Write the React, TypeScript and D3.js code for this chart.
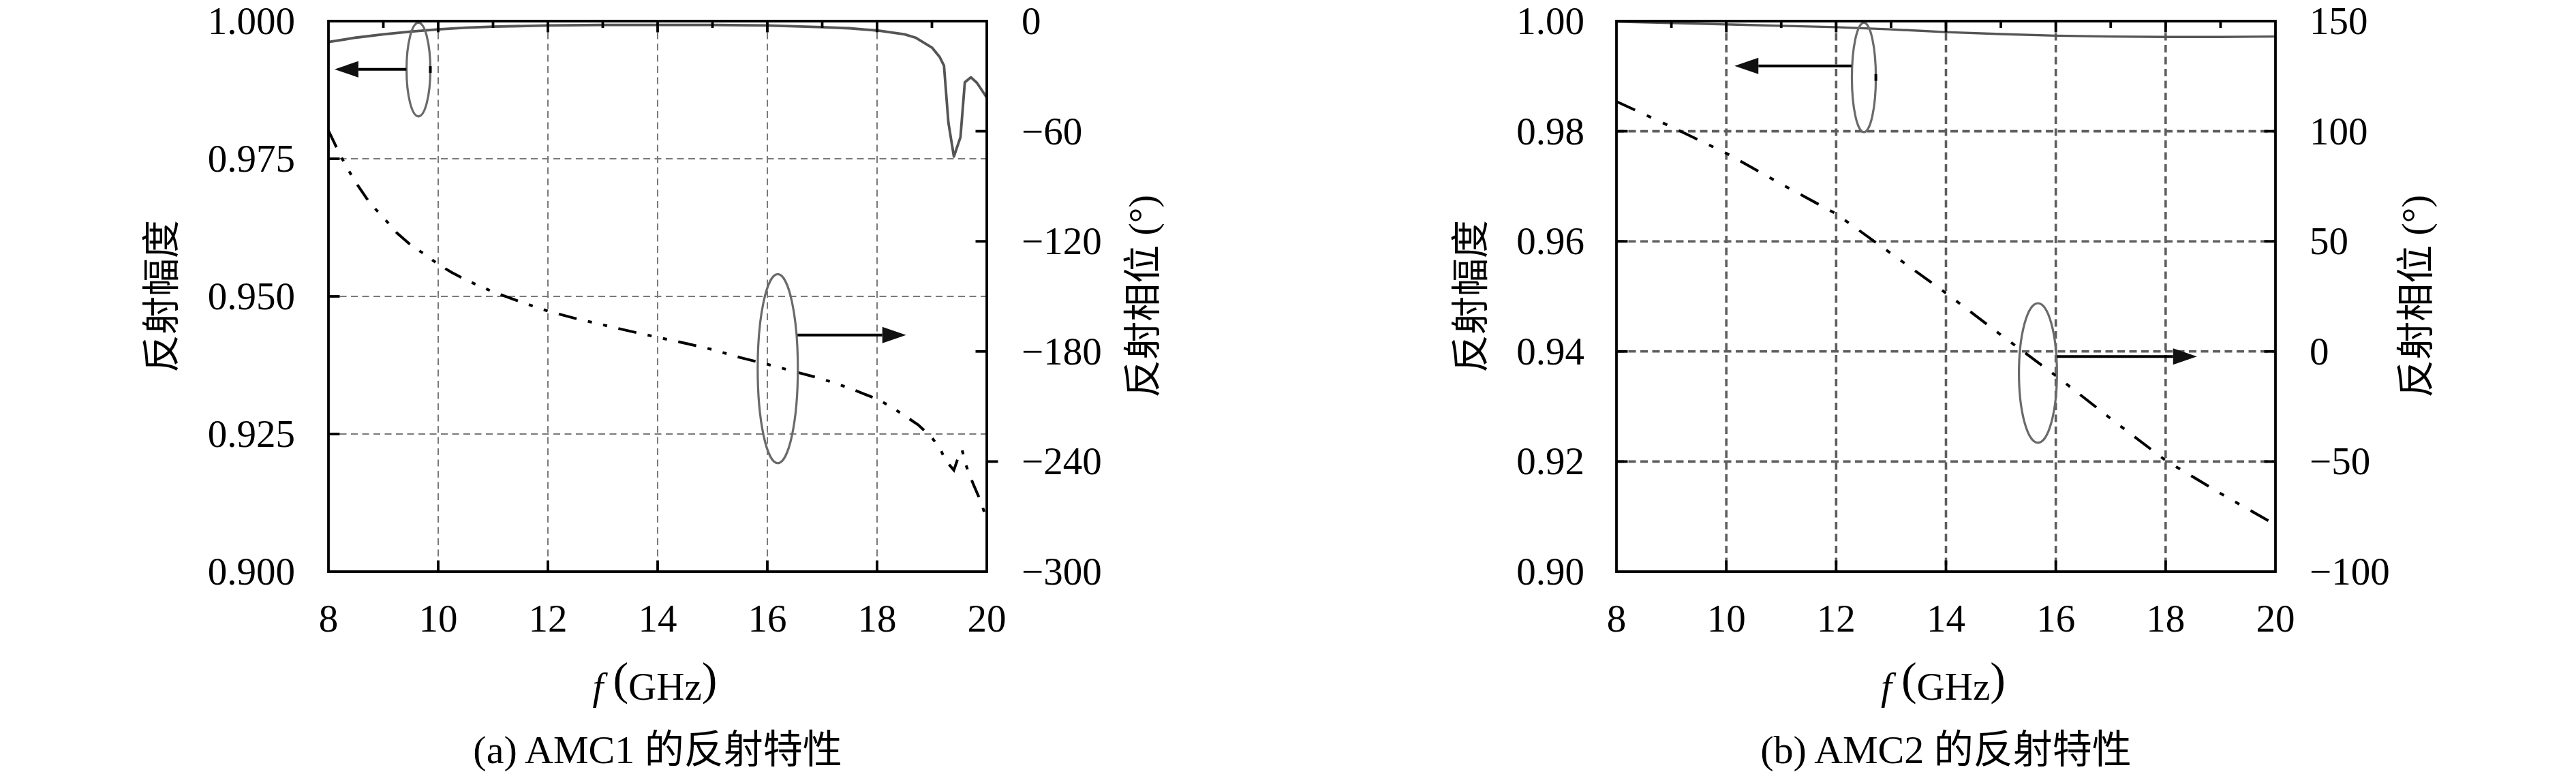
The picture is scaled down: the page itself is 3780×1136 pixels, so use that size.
import React from 'react';
import * as d3 from 'd3';

// ---------------- DATA ----------------
const freqDomain = [8, 20];
const freqTicks = [8, 10, 12, 14, 16, 18, 20];
const freqMinorTicks = [9, 11, 13, 15, 17, 19];

// AMC1 (panel a)
const amc1MagFreq = [8, 8.5, 9, 9.5, 10, 10.5, 11, 12, 13, 14, 15, 16, 17, 17.5, 18, 18.5, 18.7, 19.0, 19.14, 19.22, 19.3, 19.4, 19.52, 19.6, 19.71, 19.82, 20.0];
const amc1Mag = [0.9962, 0.997, 0.9976, 0.9981, 0.9985, 0.9988, 0.999, 0.9992, 0.9993, 0.9993, 0.9993, 0.9992, 0.9989, 0.9987, 0.9983, 0.9976, 0.997, 0.9952, 0.9935, 0.9919, 0.9816, 0.9754, 0.9789, 0.9889, 0.9898, 0.9888, 0.9861];
const amc1PhaseFreq = [8, 8.15, 8.3, 8.5, 8.75, 9, 9.25, 9.5, 9.75, 10, 10.25, 10.5, 11, 11.5, 12, 12.5, 13, 13.5, 14, 14.5, 15, 15.5, 16, 16.5, 17, 17.5, 18, 18.25, 18.5, 18.75, 19, 19.15, 19.25, 19.4, 19.5, 19.55, 19.6, 19.65, 19.75, 19.9, 20];
const amc1Phase = [-59.7, -69, -78, -88, -99, -107, -115.5, -122, -127, -132.5, -137, -141, -147.5, -153, -158, -162, -165.5, -169, -172.3, -175.5, -179, -183.3, -187, -191, -195, -200, -206, -210, -215, -220, -227, -233, -239.5, -244.7, -236, -233.6, -240, -244.5, -252, -262.5, -272];
const amc1MagDomain = [0.9, 1.0];
const amc1MagTicks = [0.9, 0.925, 0.95, 0.975, 1.0];
const amc1MagTickLabels = ['0.900', '0.925', '0.950', '0.975', '1.000'];
const amc1PhaseDomain = [-300, 0];
const amc1PhaseTicks = [-300, -240, -180, -120, -60, 0];
const amc1PhaseTickLabels = ['−300', '−240', '−180', '−120', '−60', '0'];
const amc1OutwardPhaseTicks = [-240];

// AMC2 (panel b)
const amc2MagFreq = [8, 9, 10, 11, 12, 13, 14, 15, 16, 17, 18, 19, 20];
const amc2Mag = [0.9999, 0.99965, 0.9994, 0.99915, 0.9989, 0.9985, 0.998, 0.99765, 0.99735, 0.9972, 0.99712, 0.99712, 0.9972];
const amc2PhaseFreq = [8, 9, 10, 11, 12, 13, 14, 15, 16, 17, 18, 19, 20];
const amc2Phase = [113.5, 102, 90, 76, 62.5, 44.5, 26.5, 7.5, -11, -30.5, -49.5, -64.5, -78.7];
const amc2MagDomain = [0.9, 1.0];
const amc2MagTicks = [0.9, 0.92, 0.94, 0.96, 0.98, 1.0];
const amc2MagTickLabels = ['0.90', '0.92', '0.94', '0.96', '0.98', '1.00'];
const amc2PhaseDomain = [-100, 150];
const amc2PhaseTicks = [-100, -50, 0, 50, 100, 150];
const amc2PhaseTickLabels = ['−100', '−50', '0', '50', '100', '150'];

// annotations (data coordinates)
// ellipse: [cf, cv, rf, rv]; arrow: [yValue, fromF, tipF]
const amc1MagEllipse = [9.64, 0.9912, 0.217, 0.0085];
const amc1MagArrow = [0.99125, 9.42, 8.11];
const amc1PhaseEllipse = [16.19, -189.4, 0.366, 51.5];
const amc1PhaseArrow = [-171.1, 16.55, 18.53];
const amc2MagEllipse = [12.505, 0.98977, 0.218, 0.00994];
const amc2MagArrow = [0.99187, 12.28, 10.15];
const amc2PhaseEllipse = [15.675, -9.8, 0.346, 31.7];
const amc2PhaseArrow = [-2.3, 16.02, 18.57];

const magTitle = '反射幅度';
const phaseTitle = '反射相位 (°)';
const captionA = '(a) AMC1 的反射特性';
const captionB = '(b) AMC2 的反射特性';

// ---------------- LAYOUT / STYLE ----------------
const W = 3780;
const H = 1136;
const TOP = 31;
const BOTTOM = 839;
const LATIN = '"Liberation Serif", "DejaVu Serif", "Noto Sans CJK SC", serif';
const CJK = '"Noto Sans CJK SC", "Noto Sans CJK JP", sans-serif';
const FS = 57;

type Spec = {
  left: number;
  right: number;
  magFreq: number[];
  mag: number[];
  phaseFreq: number[];
  phase: number[];
  magDomain: number[];
  magTicks: number[];
  magTickLabels: string[];
  phaseDomain: number[];
  phaseTicks: number[];
  phaseTickLabels: string[];
  outward: number[];
  magEllipse: number[];
  magArrow: number[];
  phaseEllipse: number[];
  phaseArrow: number[];
  caption: string;
  leftLabelOffset: number;
  rightLabelOffset: number;
  leftTitleOffset: number;
  rightTitleOffset: number;
  gridColor: string;
  gridWidth: number;
  gridDash: string;
  magWidth: number;
  phaseDash: string;
};

const panels: Spec[] = [
  {
    left: 482, right: 1448,
    magFreq: amc1MagFreq, mag: amc1Mag, phaseFreq: amc1PhaseFreq, phase: amc1Phase,
    magDomain: amc1MagDomain, magTicks: amc1MagTicks, magTickLabels: amc1MagTickLabels,
    phaseDomain: amc1PhaseDomain, phaseTicks: amc1PhaseTicks, phaseTickLabels: amc1PhaseTickLabels,
    outward: amc1OutwardPhaseTicks,
    magEllipse: amc1MagEllipse, magArrow: amc1MagArrow,
    phaseEllipse: amc1PhaseEllipse, phaseArrow: amc1PhaseArrow,
    caption: captionA,
    leftLabelOffset: 49, rightLabelOffset: 51, leftTitleOffset: 251, rightTitleOffset: 229,
    gridColor: '#7a7a7a', gridWidth: 2, gridDash: '10 6.5', magWidth: 3.8,
    phaseDash: '27 17 6 17 6 17',
  },
  {
    left: 2372, right: 3339,
    magFreq: amc2MagFreq, mag: amc2Mag, phaseFreq: amc2PhaseFreq, phase: amc2Phase,
    magDomain: amc2MagDomain, magTicks: amc2MagTicks, magTickLabels: amc2MagTickLabels,
    phaseDomain: amc2PhaseDomain, phaseTicks: amc2PhaseTicks, phaseTickLabels: amc2PhaseTickLabels,
    outward: [],
    magEllipse: amc2MagEllipse, magArrow: amc2MagArrow,
    phaseEllipse: amc2PhaseEllipse, phaseArrow: amc2PhaseArrow,
    caption: captionB,
    leftLabelOffset: 47, rightLabelOffset: 50, leftTitleOffset: 220, rightTitleOffset: 206,
    gridColor: '#5e5e5e', gridWidth: 3.6, gridDash: '11 6.5', magWidth: 3.4,
    phaseDash: '30 19 7 19 7 19',
  },
];

function Arrow({ x1, x2, y }: { x1: number; x2: number; y: number }) {
  const dir = x2 < x1 ? -1 : 1;
  const headLen = 35;
  const half = 12;
  const base = x2 - dir * headLen;
  return (
    <g>
      <line x1={x1} y1={y} x2={base} y2={y} stroke="#000" strokeWidth={4} />
      <polygon points={`${x2},${y} ${base},${y - half} ${base},${y + half}`} fill="#111" />
    </g>
  );
}

function Panel({ s }: { s: Spec }) {
  const x = d3.scaleLinear().domain(freqDomain).range([s.left, s.right]);
  const yM = d3.scaleLinear().domain(s.magDomain).range([BOTTOM, TOP]);
  const yP = d3.scaleLinear().domain(s.phaseDomain).range([BOTTOM, TOP]);
  const magPath = d3.line<number>().x((_, i) => x(s.magFreq[i])).y((d) => yM(d))(s.mag) || '';
  const phPath = d3.line<number>().x((_, i) => x(s.phaseFreq[i])).y((d) => yP(d))(s.phase) || '';
  const cx = (s.left + s.right) / 2;
  const cy = (TOP + BOTTOM) / 2;
  const innerMag = s.magTicks.filter((t) => t > s.magDomain[0] && t < s.magDomain[1]);
  const innerPh = s.phaseTicks.filter((t) => t > s.phaseDomain[0] && t < s.phaseDomain[1]);
  const innerF = freqTicks.filter((t) => t > freqDomain[0] && t < freqDomain[1]);
  const T = 16.5;

  const me = s.magEllipse;
  const pe = s.phaseEllipse;
  const meCx = x(me[0]);
  const meCy = yM(me[1]);
  const meRx = x(me[0] + me[2]) - meCx;
  const meRy = yM(me[1] - me[3]) - meCy;
  const peCx = x(pe[0]);
  const peCy = yP(pe[1]);
  const peRx = x(pe[0] + pe[2]) - peCx;
  const peRy = yP(pe[1] - pe[3]) - peCy;

  return (
    <g>
      {/* grid */}
      <g stroke={s.gridColor} strokeWidth={s.gridWidth} strokeDasharray={s.gridDash} fill="none">
        {innerMag.map((t) => (
          <line key={'gh' + t} x1={s.left} x2={s.right} y1={yM(t)} y2={yM(t)} />
        ))}
        {innerF.map((t) => (
          <line key={'gv' + t} x1={x(t)} x2={x(t)} y1={TOP} y2={BOTTOM} />
        ))}
      </g>
      {/* curves */}
      <path d={magPath} fill="none" stroke="#555" strokeWidth={s.magWidth} strokeLinejoin="round" />
      <path d={phPath} fill="none" stroke="#000" strokeWidth={4} strokeDasharray={s.phaseDash} />
      {/* annotations */}
      <ellipse cx={meCx} cy={meCy} rx={meRx} ry={meRy} fill="none" stroke="#6a6a6a" strokeWidth={3.2} />
      <line x1={meCx + meRx} x2={meCx + meRx} y1={meCy - 5} y2={meCy + 5} stroke="#000" strokeWidth={4} />
      <Arrow x1={x(s.magArrow[1])} x2={x(s.magArrow[2])} y={yM(s.magArrow[0])} />
      <ellipse cx={peCx} cy={peCy} rx={peRx} ry={peRy} fill="none" stroke="#6a6a6a" strokeWidth={3.2} />
      <Arrow x1={x(s.phaseArrow[1])} x2={x(s.phaseArrow[2])} y={yP(s.phaseArrow[0])} />
      {/* frame */}
      <rect x={s.left} y={TOP} width={s.right - s.left} height={BOTTOM - TOP} fill="none" stroke="#000" strokeWidth={3.8} />
      {/* ticks */}
      <g stroke="#000" strokeWidth={3.8}>
        {innerF.map((t) => (
          <line key={'tb' + t} x1={x(t)} x2={x(t)} y1={BOTTOM} y2={BOTTOM - T} />
        ))}
        {innerF.map((t) => (
          <line key={'tt' + t} x1={x(t)} x2={x(t)} y1={TOP} y2={TOP + T} />
        ))}
        {freqMinorTicks.map((t) => (
          <line key={'tm' + t} x1={x(t)} x2={x(t)} y1={TOP} y2={TOP + 10} />
        ))}
        {innerMag.map((t) => (
          <line key={'tl' + t} x1={s.left} x2={s.left + T} y1={yM(t)} y2={yM(t)} />
        ))}
        {innerPh.map((t) => {
          const out = s.outward.includes(t);
          return (
            <line key={'tr' + t} x1={s.right} x2={out ? s.right + T : s.right - T} y1={yP(t)} y2={yP(t)} />
          );
        })}
      </g>
      {/* tick labels */}
      <g fontFamily={LATIN} fontSize={FS} fill="#000">
        {freqTicks.map((t) => (
          <text key={'xl' + t} x={x(t)} y={BOTTOM + 88} textAnchor="middle">{t}</text>
        ))}
        {s.magTicks.map((t, i) => (
          <text key={'ml' + t} x={s.left - s.leftLabelOffset} y={yM(t) + FS * 0.335} textAnchor="end">
            {s.magTickLabels[i]}
          </text>
        ))}
        {s.phaseTicks.map((t, i) => (
          <text key={'pl' + t} x={s.right + s.rightLabelOffset} y={yP(t) + FS * 0.335} textAnchor="start">
            {s.phaseTickLabels[i]}
          </text>
        ))}
      </g>
      {/* axis titles */}
      <text
        x={0} y={0} fontFamily={CJK} fontSize={56} textAnchor="middle" dominantBaseline="central"
        transform={`translate(${s.left - s.leftTitleOffset},${cy}) rotate(-90)`}
      >
        {magTitle}
      </text>
      <text
        x={0} y={0} fontFamily={`"Liberation Serif", ${CJK}`} fontSize={56} textAnchor="middle" dominantBaseline="central"
        transform={`translate(${s.right + s.rightTitleOffset},${cy}) rotate(-90)`}
      >
        {phaseTitle}
      </text>
      <text x={cx - 4} y={1027} fontFamily={LATIN} fontSize={FS} textAnchor="middle">
        <tspan fontStyle="italic">f</tspan>
        <tspan dx={14} dy={-8} fontSize={68}>(</tspan>
        <tspan dy={8}>GHz</tspan>
        <tspan dy={-8} fontSize={68}>)</tspan>
      </text>
      <text x={cx} y={1120} fontFamily={LATIN} fontSize={58} textAnchor="middle">
        {s.caption}
      </text>
    </g>
  );
}

export default function App() {
  return (
    <svg
      width={W}
      height={H}
      viewBox={`0 0 ${W} ${H}`}
      style={{ position: 'absolute', left: 0, top: 0, background: '#fff' }}
      xmlns="http://www.w3.org/2000/svg"
    >
      <rect x={0} y={0} width={W} height={H} fill="#fff" />
      {panels.map((s, i) => (
        <Panel key={i} s={s} />
      ))}
    </svg>
  );
}
